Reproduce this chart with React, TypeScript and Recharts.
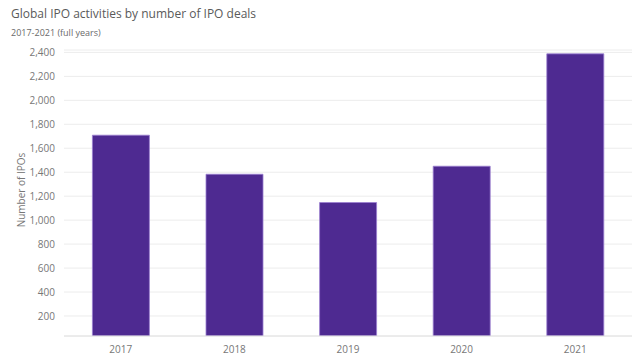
import { BarChart, Bar, XAxis, YAxis, CartesianGrid } from "recharts"

const years = ["2017", "2018", "2019", "2020", "2021"]
const ipoDeals = [1709, 1383, 1147, 1450, 2388]
const yTicks = [200, 400, 600, 800, 1000, 1200, 1400, 1600, 1800, 2000, 2200, 2400]

const data = years.map((year, i) => ({ year, deals: ipoDeals[i] }))

const font = "'Open Sans', 'Noto Sans', sans-serif"

export default function App() {
  return (
    <div style={{ position: "absolute", left: 0, top: 0, width: 640, height: 358, background: "#fff", fontFamily: font }}>
      <div style={{ position: "absolute", left: 11, top: 5, fontSize: 12, color: "#5a5a5a" }}>
        Global IPO activities by number of IPO deals
      </div>
      <div style={{ position: "absolute", left: 11, top: 26, fontSize: 9, color: "#6a6a6a" }}>
        2017-2021 (full years)
      </div>
      <div
        style={{
          position: "absolute",
          left: 21,
          top: 190,
          fontSize: 10,
          color: "#777",
          whiteSpace: "nowrap",
          transform: "translate(-50%, -50%) rotate(-90deg)",
        }}
      >
        Number of IPOs
      </div>
      <BarChart width={640} height={358} data={data} margin={{ top: 50, right: 8, bottom: 2, left: 8 }} barCategoryGap="25%">
        <CartesianGrid vertical={false} stroke="#ececec" />
        <XAxis
          dataKey="year"
          height={20}
          axisLine={{ stroke: "#e2e2e2" }}
          tickLine={false}
          tick={{ fill: "#777", fontSize: 10, fontFamily: font }}
          tickMargin={4}
        />
        <YAxis
          width={56}
          domain={[33, 2420]}
          ticks={yTicks}
          allowDataOverflow
          axisLine={false}
          tickLine={false}
          tickMargin={3}
          tickFormatter={(v: number) => v.toLocaleString("en-US")}
          tick={{ fill: "#777", fontSize: 10, fontFamily: font }}
        />
        <Bar dataKey="deals" fill="#4e2a91" stroke="#9a7fd0" strokeWidth={0.8} isAnimationActive={false} />
      </BarChart>
    </div>
  )
}
